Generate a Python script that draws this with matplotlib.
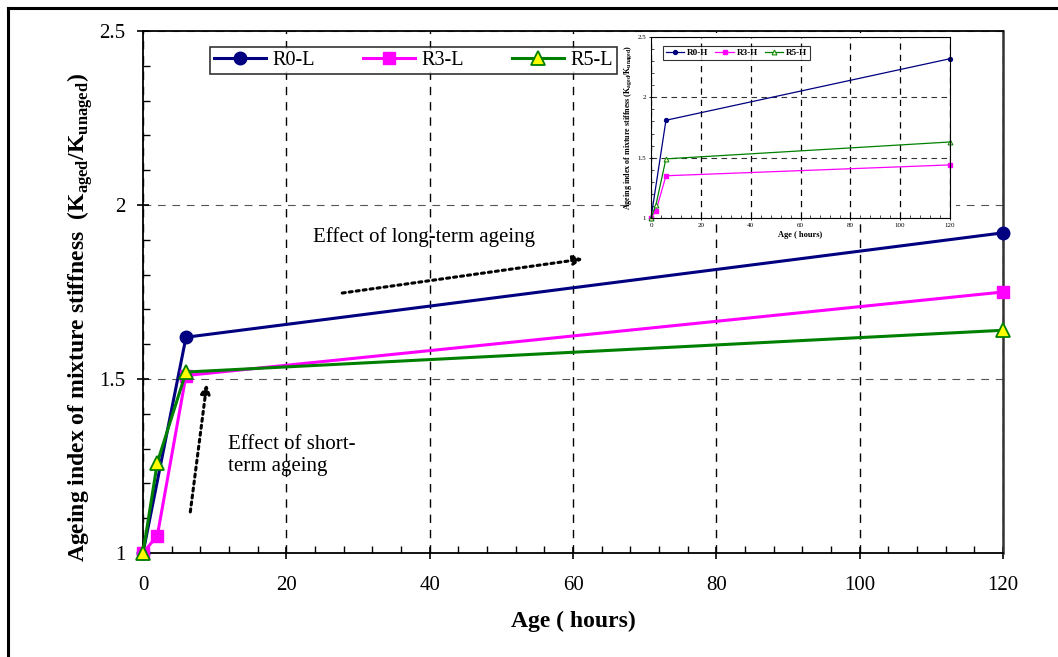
import matplotlib
matplotlib.use("Agg")
import matplotlib.pyplot as plt
from matplotlib.patches import Rectangle
from matplotlib.lines import Line2D
from matplotlib.ticker import MultipleLocator

plt.rcParams["font.family"] = ["Liberation Serif", "DejaVu Serif"]
plt.rcParams["mathtext.fontset"] = "custom"
plt.rcParams["mathtext.rm"] = "Liberation Serif"
plt.rcParams["mathtext.bf"] = "Liberation Serif:bold"

# ── Data ────────────────────────────────────────────────────────────────────
age_hours = [0, 2, 6, 120]
age_r0 = [0, 6, 120]          # R0 mixes have no 2 h measurement

r0_l = [1.00, 1.62, 1.92]
r3_l = [1.00, 1.05, 1.51, 1.75]
r5_l = [1.00, 1.26, 1.52, 1.64]

r0_h = [1.00, 1.81, 2.32]
r3_h = [1.00, 1.06, 1.35, 1.44]
r5_h = [1.00, 1.11, 1.49, 1.63]

main_labels = ["R0-L", "R3-L", "R5-L"]
inset_labels = ["R0-H", "R3-H", "R5-H"]
x_ticks = [0, 20, 40, 60, 80, 100, 120]
y_ticks = [1, 1.5, 2, 2.5]
y_tick_labels = ["1", "1.5", "2", "2.5"]

NAVY, MAGENTA, GREEN, YELLOW = "#000080", "#FF00FF", "#008000", "#FFFF00"
W, H = 1058, 657

fig = plt.figure(figsize=(W / 100, H / 100), dpi=100)

# outer chart-area frame (right/bottom fall outside the picture)
fig.add_artist(Line2D([8 / W, 1.0], [1 - 8 / H, 1 - 8 / H], transform=fig.transFigure,
                      color="black", lw=2.2))
fig.add_artist(Line2D([8 / W, 8 / W], [0.0, 1 - 8 / H], transform=fig.transFigure,
                      color="black", lw=2.2))

# ── Main plot ───────────────────────────────────────────────────────────────
ax = fig.add_axes([143 / W, 1 - 553 / H, 860 / W, 522 / H])
ax.set_zorder(0)

ax.plot(age_r0, r0_l, color=NAVY, lw=2.2, marker="o", ms=9,
        mfc=NAVY, mec=NAVY, label=main_labels[0], clip_on=False, zorder=3)
ax.plot(age_hours, r3_l, color=MAGENTA, lw=2.2, marker="s", ms=9,
        mfc=MAGENTA, mec=MAGENTA, label=main_labels[1], clip_on=False, zorder=4)
ax.plot(age_hours, r5_l, color=GREEN, lw=2.2, marker="^", ms=10,
        mfc=YELLOW, mec=GREEN, mew=1.3, label=main_labels[2], clip_on=False, zorder=5)

ax.set_xlim(0, 120)
ax.set_ylim(1, 2.5)
ax.set_xticks(x_ticks)
ax.set_yticks(y_ticks)
ax.set_yticklabels(y_tick_labels)
ax.xaxis.set_minor_locator(MultipleLocator(4))
ax.yaxis.set_minor_locator(MultipleLocator(0.1))
ax.tick_params(axis="x", which="major", direction="inout", length=9, width=1.2,
               labelsize=15, pad=12)
ax.tick_params(axis="y", which="major", direction="inout", length=9, width=1.2,
               labelsize=15, pad=8)
ax.tick_params(which="minor", direction="in", length=5, width=1.0)

ax.grid(axis="x", which="major", color="black", lw=1.0, linestyle=(0, (6, 5)))
ax.grid(axis="y", which="major", color="#555555", lw=0.8, linestyle=(0, (7, 6)))
ax.set_axisbelow(True)
for side in ["left", "bottom", "top"]:
    ax.spines[side].set_linewidth(1.3)
ax.spines["right"].set_linewidth(1.8)
ax.spines["right"].set_color("#333333")

leg = ax.legend(loc="lower left", bbox_to_anchor=(0.078, 0.918, 0.473, 0.052),
                mode="expand", ncol=3, fontsize=14.5, frameon=True, fancybox=False,
                edgecolor="black", handlelength=2.6, borderpad=0.2,
                handletextpad=0.3, columnspacing=1.0, borderaxespad=0)
leg.get_frame().set_linewidth(1.2)

# annotations
ax.text(23.7, 1.908, "Effect of long-term ageing", fontsize=15, va="center", ha="left")
ax.annotate("", xy=(61.4, 1.845), xytext=(27.8, 1.747),
            arrowprops=dict(arrowstyle="-|>", linestyle=(0, (1, 1.3)), lw=2.2,
                            color="black", mutation_scale=14, shrinkA=0, shrinkB=0))
ax.text(11.9, 1.28, "Effect of short-\nterm ageing", fontsize=15, va="center",
        ha="left", linespacing=1.2)
ax.annotate("", xy=(8.9, 1.486), xytext=(6.6, 1.118),
            arrowprops=dict(arrowstyle="-|>", linestyle=(0, (1, 1.3)), lw=2.2,
                            color="black", mutation_scale=14, shrinkA=0, shrinkB=0))

fig.text(80 / W, 1 - 317 / H,
         r"Ageing index of mixture stiffness  (K$_{\mathbf{aged}}$/K$_{\mathbf{unaged}}$)",
         rotation=90, ha="center", va="center", fontsize=17, fontweight="bold")
fig.text(573 / W, 1 - 621 / H, "Age ( hours)", ha="center", va="center",
         fontsize=17, fontweight="bold")

# ── Inset (high ageing) ─────────────────────────────────────────────────────
fig.add_artist(Rectangle((628 / W, 1 - 221 / H), 328 / W, 188 / H,
                         transform=fig.transFigure, facecolor="white",
                         edgecolor="none", zorder=1))

ins = fig.add_axes([651 / W, 1 - 218 / H, 299 / W, 181 / H])
ins.set_zorder(2)

ins.plot(age_r0, r0_h, color=NAVY, lw=0.9, marker="o", ms=2.8,
         mfc=NAVY, mec=NAVY, label=inset_labels[0], clip_on=False)
ins.plot(age_hours, r3_h, color=MAGENTA, lw=0.9, marker="s", ms=3.5,
         mfc=MAGENTA, mec=MAGENTA, label=inset_labels[1], clip_on=False)
ins.plot(age_hours, r5_h, color=GREEN, lw=0.9, marker="^", ms=3.5,
         mfc="#ffffcc", mec=GREEN, mew=0.7, label=inset_labels[2], clip_on=False)

ins.set_xlim(0, 120)
ins.set_ylim(1, 2.5)
ins.set_xticks(x_ticks)
ins.set_yticks(y_ticks)
ins.set_yticklabels(y_tick_labels)
ins.xaxis.set_minor_locator(MultipleLocator(4))
ins.yaxis.set_minor_locator(MultipleLocator(0.1))
ins.tick_params(which="major", direction="inout", length=3, width=0.6,
                labelsize=5, pad=2)
ins.tick_params(which="minor", direction="in", length=2, width=0.5)
ins.grid(axis="x", which="major", color="black", lw=0.9, linestyle=(0, (5, 4)))
ins.grid(axis="y", which="major", color="#333333", lw=0.8, linestyle=(0, (5, 4)))
ins.set_axisbelow(True)
for sp in ins.spines.values():
    sp.set_linewidth(0.8)

ileg = ins.legend(loc="upper left", bbox_to_anchor=(0.04, 0.95), ncol=3,
                  prop={"size": 6.6, "weight": "bold"}, frameon=True, fancybox=False,
                  edgecolor="black", handlelength=2.0, borderpad=0.3,
                  handletextpad=0.3, columnspacing=0.8, borderaxespad=0)
ileg.get_frame().set_linewidth(0.8)

ins.set_ylabel(r"Ageing index of mixture stiffness (K$_{\mathbf{aged}}$/K$_{\mathbf{unaged}}$)",
               fontsize=5.8, fontweight="bold", labelpad=2)
ins.set_xlabel("Age ( hours)", fontsize=6, fontweight="bold", labelpad=2)

plt.savefig("out.png", dpi=100)
